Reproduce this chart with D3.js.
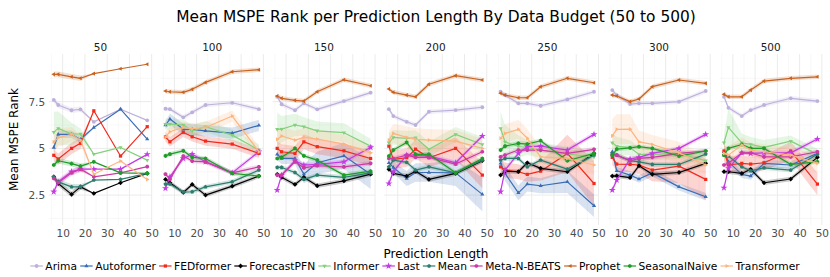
<!DOCTYPE html>
<html><head><meta charset="utf-8">
<script src="https://cdn.jsdelivr.net/npm/d3@7"></script>
<style>body{margin:0;background:#fff}text{font-family:"DejaVu Sans",sans-serif}</style>
</head><body>
<script>
// ---------------- DATA ----------------
const budgets = ["50","100","150","200","250","300","500"];
const predLengths = [6, 8, 14, 18, 24, 36, 48];
const models = ["Arima","Autoformer","FEDformer","ForecastPFN","Informer","Last","Mean","Meta-N-BEATS","Prophet","SeasonalNaive","Transformer"];
const xTicks = [10, 20, 30, 40, 50];
const yTicks = [2.5, 5, 7.5];
const yTickLabels = ["2.5", "5", "7.5"];

// mean rank per budget (rows) per prediction length (cols)
const arima = [
  [7.59,7.32,7.04,7.09,6.42,7.09,6.50],
  [7.12,7.10,6.66,6.93,7.32,7.44,7.10],
  [7.76,7.36,7.04,7.41,7.09,7.53,7.98],
  [7.10,6.73,6.42,6.25,6.96,7.05,7.20],
  [8.03,7.85,7.41,7.41,7.28,7.62,8.03],
  [8.12,7.85,7.37,7.41,7.41,7.50,8.07],
  [7.76,7.17,6.73,7.05,7.32,7.68,7.53]];
const autoformer = [
  [5.05,5.75,5.75,5.48,6.12,7.10,5.50],
  [6.25,6.57,6.02,6.02,5.94,5.82,6.23],
  [4.68,4.46,4.46,3.62,4.23,4.60,3.62],
  [4.23,3.98,3.39,3.71,3.71,3.69,2.54],
  [4.20,3.66,2.62,3.09,3.00,3.21,1.93],
  [4.82,3.80,3.57,3.36,3.69,2.94,2.41],
  [4.82,4.28,3.61,3.52,4.20,4.11,4.73]];
const fedformer = [
  [4.63,4.43,5.00,5.27,7.01,4.59,6.16],
  [5.62,5.35,5.86,5.62,5.39,5.23,4.73],
  [5.00,4.82,4.73,5.35,5.09,4.87,4.46],
  [5.12,4.41,4.50,4.96,4.50,5.00,3.57],
  [4.01,3.84,3.75,3.61,3.78,4.73,3.12],
  [4.52,4.16,4.14,4.11,3.84,4.05,3.34],
  [4.86,4.11,4.20,4.16,4.23,4.86,3.09]];
const forecastPFN = [
  [3.48,3.12,2.54,2.94,2.59,3.16,3.66],
  [3.34,3.16,2.64,3.07,2.50,2.98,3.52],
  [3.61,3.45,3.07,3.45,3.00,3.26,3.62],
  [3.88,3.66,3.52,3.78,3.34,3.66,4.34],
  [3.57,3.78,3.75,4.23,3.93,3.75,4.73],
  [3.52,3.53,3.43,4.07,3.61,3.71,4.20],
  [3.75,3.75,3.66,3.88,3.16,3.36,4.52]];
const informer = [
  [5.87,6.07,5.77,5.77,4.69,5.05,4.37],
  [6.30,6.30,6.25,5.94,6.16,5.71,4.91],
  [6.02,6.03,6.25,6.16,5.94,5.84,5.12],
  [5.30,5.59,5.54,5.57,4.95,5.75,5.21],
  [6.07,5.35,5.10,5.05,4.90,4.70,4.55],
  [5.30,5.12,5.03,4.68,4.68,4.73,4.34],
  [5.30,6.12,5.30,5.21,5.05,5.39,4.68]];
const last = [
  [2.68,3.21,3.75,3.89,3.89,3.89,4.68],
  [2.86,3.48,4.46,4.69,4.28,3.69,4.82],
  [2.77,3.57,4.34,4.11,4.14,4.28,5.05],
  [3.12,3.75,4.64,4.64,4.59,4.23,5.66],
  [2.68,3.84,4.73,5.09,5.12,4.91,5.75],
  [2.77,3.30,4.43,4.52,4.73,5.00,5.75],
  [2.89,3.93,4.76,4.73,4.76,4.76,5.50]];
const mean = [
  [3.48,3.21,2.94,2.94,3.30,3.34,3.66],
  [3.09,3.09,2.66,2.68,2.94,3.21,3.84],
  [3.98,3.98,3.71,3.34,3.57,3.45,3.69],
  [4.01,4.37,4.25,3.84,4.01,3.69,4.37],
  [4.37,4.46,4.46,4.01,4.37,3.89,4.64],
  [4.73,4.64,4.34,4.28,4.14,4.14,4.69],
  [4.64,4.59,4.01,3.80,3.96,3.84,4.68]];
const metaNBeats = [
  [3.39,3.16,3.69,3.89,3.48,3.69,4.02],
  [3.62,3.34,4.59,4.32,4.28,3.69,4.01],
  [3.57,3.57,4.28,3.96,4.07,4.01,4.20],
  [4.46,4.46,4.64,4.52,4.52,4.16,4.82],
  [4.55,4.64,4.91,4.91,4.91,4.73,4.95],
  [4.64,4.64,4.34,4.46,4.52,4.73,4.86],
  [4.11,4.20,4.76,4.76,4.55,4.55,4.82]];
const prophet = [
  [8.96,8.96,8.83,8.75,9.00,9.26,9.50],
  [8.07,8.03,8.00,8.16,8.53,9.10,9.21],
  [7.80,7.68,7.57,7.53,8.03,8.67,8.35],
  [8.18,8.00,7.85,7.76,8.43,8.89,8.66],
  [7.95,7.85,7.71,7.71,8.30,8.75,8.51],
  [7.85,7.80,7.50,7.64,8.30,8.66,8.48],
  [7.89,7.76,7.76,8.12,8.60,8.75,8.83]];
const seasonalNaive = [
  [4.11,4.34,4.18,4.05,4.28,3.69,3.66],
  [4.60,4.69,4.87,4.52,4.46,3.66,3.52],
  [4.46,4.52,5.00,4.60,4.37,3.57,3.78],
  [4.59,4.91,5.32,4.68,4.68,3.69,4.46],
  [4.91,5.12,5.27,5.23,5.41,4.34,4.73],
  [4.64,4.96,5.03,5.09,5.00,4.59,4.86],
  [4.64,5.00,5.21,5.00,5.00,4.14,4.28]];
const transformer = [
  [5.35,5.57,5.75,5.44,3.62,4.32,3.34],
  [5.60,5.89,6.12,6.05,6.12,6.73,4.82],
  [5.48,5.66,5.44,5.59,5.50,5.23,4.76],
  [5.44,5.80,5.59,5.48,5.44,5.39,5.00],
  [5.54,5.80,6.02,5.54,4.55,4.46,4.11],
  [5.67,6.02,6.03,5.35,5.21,4.76,4.11],
  [4.73,4.64,5.18,4.91,4.82,4.64,4.20]];

// ribbon half-widths
const bandInformer = [
  [1.1,0.9,0.6,0.3,0,0,0],[0.3,0.3,0.3,0.3,0.3,0.3,0.3],[0.9,0.7,0.6,0.5,0.5,0.5,0.4],
  [0.5,0.4,0.4,0.4,0.4,0.4,0.4],[0.9,0.9,0.6,0.4,0.4,0.4,0.3],[0.5,0.5,0.4,0.4,0.3,0.3,0.3],
  [0.5,1.0,0.5,0.4,0.4,0.3,0.3]];
const bandTransformer = [
  [0.6,0.5,0.4,0.3,0,0,0],[0.3,0.3,0.3,0.3,0.3,0.3,0.3],[0.6,0.5,0.5,0.5,0.5,0.5,0.4],
  [0.5,0.5,0.6,0.6,0.6,0.6,0.5],[0.5,0.5,0.5,0.5,0.5,0.5,0.5],[0.9,0.8,0.8,0.6,0.5,0.6,0.5],
  [0.4,0.5,0.4,0.4,0.4,0.4,0.5]];
const bandFedformer = [
  [0.3,0.3,0.3,0.3,0,0,0],[0.25,0.25,0.25,0.25,0.25,0.25,0.25],[0.4,0.4,0.4,0.4,0.4,0.4,0.4],
  [0.4,0.5,0.5,0.5,0.5,0.6,0.7],[0.4,0.4,0.4,0.4,0.5,1.0,1.2],[0.4,0.4,0.4,0.5,0.6,0.9,1.1],
  [0.5,0.5,0.4,0.4,0.4,0.5,0.6]];
const bandAutoformer = [
  [0.2,0.2,0.2,0.2,0,0,0],[0.2,0.3,0.3,0.3,0.3,0.3,0.3],[0.3,0.3,0.3,0.5,0.6,0.7,0.8],
  [0.3,0.3,0.4,0.5,0.5,0.7,0.9],[0.3,0.4,0.4,0.4,0.4,0.6,0.6],[0.2,0.2,0.2,0.2,0.2,0.2,0.2],
  [0.2,0.2,0.2,0.2,0.2,0.2,0.2]];
const bandDefaultFirst = [0.15,0.15,0.15,0.15,0,0,0];
const bandDefault = [0.12,0.12,0.12,0.12,0.12,0.12,0.12];

// ---------------- STYLE ----------------
const seriesValues = [arima, autoformer, fedformer, forecastPFN, informer, last, mean, metaNBeats, prophet, seasonalNaive, transformer];
const seriesBands = [null, bandAutoformer, bandFedformer, null, bandInformer, null, null, null, null, null, bandTransformer];
const colors = ["#bdb1db","#3a6db5","#f22a1c","#000000","#84d07c","#c43ae4","#2b7d6e","#cc3aa3","#c9621f","#1e9c28","#fdb57f"];
const shapes = ["circle","up","square","diamond","down","star","pentagon","octagon","left","hexagon","right"];

const W = 830, H = 277;
const panelLeft0 = 49.1, panelStep = 111.7, panelW = 102.8;
const panelTop = 54, panelBottom = 225;

const svg = d3.select("body").append("svg").attr("width", W).attr("height", H);

function poly(n, r, rot) {
  const pts = [];
  for (let i = 0; i < n; i++) {
    const a = rot + i * 2 * Math.PI / n;
    pts.push([r * Math.sin(a), -r * Math.cos(a)]);
  }
  return "M" + pts.map(p => p[0].toFixed(2) + "," + p[1].toFixed(2)).join("L") + "Z";
}
function markerPath(shape, r) {
  switch (shape) {
    case "circle": return d3.symbol(d3.symbolCircle, Math.PI * r * r)();
    case "up": return poly(3, r * 1.25, 0);
    case "down": return poly(3, r * 1.25, Math.PI);
    case "left": return poly(3, r * 1.25, -Math.PI / 2);
    case "right": return poly(3, r * 1.25, Math.PI / 2);
    case "square": return poly(4, r * 1.2, Math.PI / 4);
    case "diamond": return poly(4, r * 1.25, 0);
    case "star": return d3.symbol(d3.symbolStar, r * r * 4.2)();
    case "pentagon": return poly(5, r * 1.1, 0);
    case "hexagon": return poly(6, r * 1.1, 0);
    case "octagon": return poly(8, r * 1.05, Math.PI / 8);
  }
}

const y = d3.scaleLinear().domain([0.9, 10.05]).range([panelBottom, panelTop]);

// Title
svg.append("text").attr("x", 436).attr("y", 22).attr("text-anchor", "middle")
  .attr("font-size", "15.4px").attr("fill", "#000")
  .text("Mean MSPE Rank per Prediction Length By Data Budget (50 to 500)");

budgets.forEach((b, pi) => {
  const left = panelLeft0 + pi * panelStep;
  const x = d3.scaleLinear().domain([3.9, 50.1]).range([left, left + panelW]);
  const g = svg.append("g");

  // minor grid
  [5, 15, 25, 35, 45].forEach(v => g.append("line").attr("x1", x(v)).attr("x2", x(v))
    .attr("y1", panelTop).attr("y2", panelBottom).attr("stroke", "#f3f3f3").attr("stroke-width", 0.6));
  [1.25, 3.75, 6.25, 8.75].forEach(v => g.append("line").attr("x1", left).attr("x2", left + panelW)
    .attr("y1", y(v)).attr("y2", y(v)).attr("stroke", "#f3f3f3").attr("stroke-width", 0.6));
  // major grid
  xTicks.forEach(v => g.append("line").attr("x1", x(v)).attr("x2", x(v))
    .attr("y1", panelTop).attr("y2", panelBottom).attr("stroke", "#ebebeb").attr("stroke-width", 1));
  yTicks.forEach(v => g.append("line").attr("x1", left).attr("x2", left + panelW)
    .attr("y1", y(v)).attr("y2", y(v)).attr("stroke", "#ebebeb").attr("stroke-width", 1));

  // facet label
  svg.append("text").attr("x", left + panelW / 2).attr("y", 51).attr("text-anchor", "middle")
    .attr("font-size", "10.5px").attr("fill", "#1a1a1a").text(b);

  // x axis
  const xa = svg.append("g").attr("transform", `translate(0,${panelBottom})`)
    .call(d3.axisBottom(x).tickValues(xTicks).tickSize(0).tickPadding(5));
  xa.select(".domain").remove();
  xa.selectAll("text").attr("font-size", "10.5px").attr("fill", "#4d4d4d").attr("font-family", "DejaVu Sans");

  if (pi === 0) {
    const ya = svg.append("g").attr("transform", `translate(${left},0)`)
      .call(d3.axisLeft(y).tickValues(yTicks).tickFormat((d, i) => yTickLabels[i]).tickSize(0).tickPadding(4));
    ya.select(".domain").remove();
    ya.selectAll("text").attr("font-size", "10.5px").attr("fill", "#4d4d4d").attr("font-family", "DejaVu Sans");
  }

  // ribbons
  const area = d3.area().x(d => x(d.x)).y0(d => y(d.v - d.h)).y1(d => y(d.v + d.h));
  models.forEach((m, si) => {
    const vals = seriesValues[si][pi];
    const band = seriesBands[si] ? seriesBands[si][pi] : (pi === 0 ? bandDefaultFirst : bandDefault);
    const pts = predLengths.map((p, k) => ({ x: p, v: vals[k], h: band[k] }));
    g.append("path").attr("d", area(pts)).attr("fill", colors[si]).attr("fill-opacity", 0.2).attr("stroke", "none");
  });

  // lines + markers
  const line = d3.line().x(d => x(d.x)).y(d => y(d.v));
  models.forEach((m, si) => {
    const vals = seriesValues[si][pi];
    const pts = predLengths.map((p, k) => ({ x: p, v: vals[k] }));
    g.append("path").attr("d", line(pts)).attr("fill", "none").attr("stroke", colors[si])
      .attr("stroke-width", 1.2).attr("stroke-linejoin", "round");
    g.selectAll(null).data(pts).enter().append("path")
      .attr("transform", d => `translate(${x(d.x)},${y(d.v)})`)
      .attr("d", markerPath(shapes[si], 1.9)).attr("fill", colors[si]);
  });
});

// axis titles
svg.append("text").attr("transform", `translate(18,${(panelTop + panelBottom) / 2}) rotate(-90)`)
  .attr("text-anchor", "middle").attr("font-size", "12px").attr("fill", "#000").text("Mean MSPE Rank");
svg.append("text").attr("x", 436).attr("y", 258).attr("text-anchor", "middle")
  .attr("font-size", "12px").attr("fill", "#000").text("Prediction Length");

// legend
const lg = svg.append("g");
let cx = 0;
const items = [];
models.forEach((m, si) => {
  const it = lg.append("g").attr("transform", `translate(${cx},0)`);
  it.append("line").attr("x1", 0).attr("x2", 12.5).attr("y1", 0).attr("y2", 0)
    .attr("stroke", colors[si]).attr("stroke-width", 1.2);
  it.append("path").attr("transform", "translate(6.25,0)").attr("d", markerPath(shapes[si], 1.9)).attr("fill", colors[si]);
  const t = it.append("text").attr("x", 15).attr("y", 3.8).attr("font-size", "10.7px").attr("fill", "#000").text(m);
  cx += 15 + t.node().getComputedTextLength() + 3.2;
});
const total = cx - 3.2;
lg.attr("transform", `translate(${415 - total / 2},266)`);
</script>
</body></html>
